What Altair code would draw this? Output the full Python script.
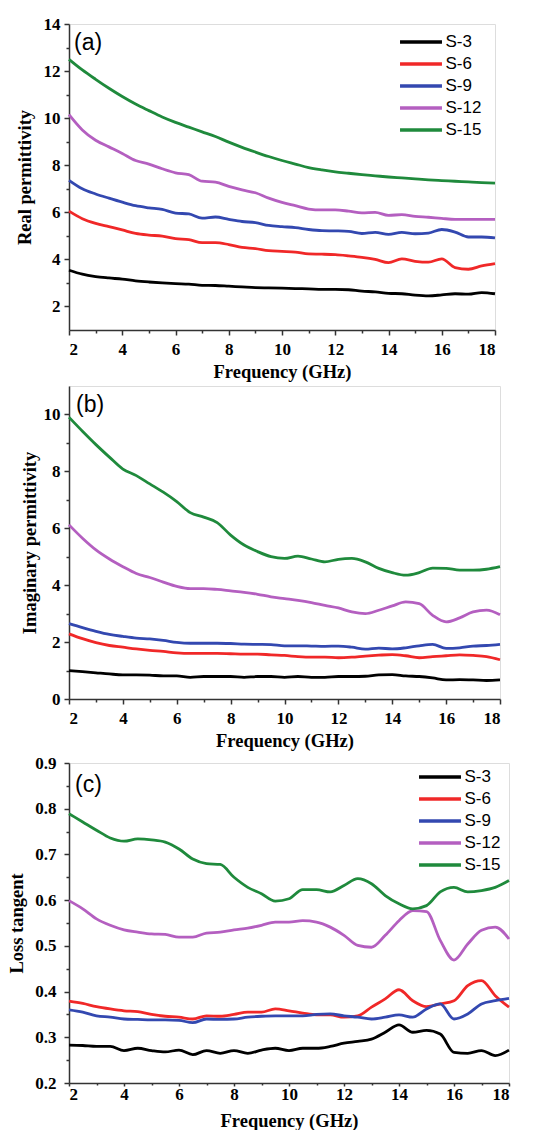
import altair as alt
import pandas as pd

FREQ = [2.0, 2.5, 3.0, 3.5, 4.0, 4.5, 5.0, 5.5, 6.0, 6.5, 7.0, 7.5, 8.0, 8.5, 9.0, 9.5,
        10.0, 10.5, 11.0, 11.5, 12.0, 12.5, 13.0, 13.5, 14.0, 14.5, 15.0, 15.5, 16.0,
        16.5, 17.0, 17.5, 18.0]
SERIES = ["S-3", "S-6", "S-9", "S-12", "S-15"]
COLORS = ["#000000", "#f02828", "#3348b0", "#b45fc0", "#1f8a3c"]

# (a) Real permittivity
A_S3 = [3.54, 3.37, 3.27, 3.21, 3.16, 3.09, 3.04, 3.0, 2.97, 2.95, 2.9, 2.89, 2.86, 2.83, 2.8, 2.79,
        2.78, 2.76, 2.75, 2.73, 2.73, 2.71, 2.65, 2.62, 2.56, 2.54, 2.48, 2.45, 2.49, 2.54, 2.52, 2.59, 2.54]
A_S6 = [6.05, 5.73, 5.53, 5.39, 5.25, 5.1, 5.03, 4.99, 4.88, 4.84, 4.71, 4.71, 4.63, 4.51, 4.46, 4.37,
        4.34, 4.31, 4.23, 4.22, 4.2, 4.15, 4.09, 4.0, 3.86, 4.02, 3.92, 3.88, 4.02, 3.65, 3.58, 3.72, 3.82]
A_S9 = [7.36, 7.0, 6.78, 6.6, 6.43, 6.28, 6.19, 6.12, 5.97, 5.93, 5.75, 5.8, 5.7, 5.61, 5.56, 5.44,
        5.39, 5.35, 5.27, 5.22, 5.21, 5.19, 5.1, 5.15, 5.06, 5.15, 5.09, 5.12, 5.27, 5.16, 4.95, 4.95, 4.91]
A_S12 = [10.15, 9.5, 9.06, 8.78, 8.5, 8.2, 8.05, 7.85, 7.68, 7.6, 7.32, 7.28, 7.1, 6.95, 6.83, 6.6,
         6.42, 6.28, 6.14, 6.1, 6.1, 6.05, 5.98, 6.0, 5.87, 5.9, 5.83, 5.79, 5.74, 5.7, 5.7, 5.7, 5.7]
A_S15 = [12.5, 12.05, 11.65, 11.27, 10.92, 10.6, 10.32, 10.05, 9.82, 9.62, 9.42, 9.22, 8.98, 8.76, 8.56,
         8.37, 8.2, 8.05, 7.9, 7.8, 7.72, 7.66, 7.6, 7.55, 7.5, 7.46, 7.42, 7.38, 7.35, 7.32, 7.29, 7.26, 7.24]

# (b) Imaginary permittivity
B_S3 = [1.0, 0.96, 0.92, 0.88, 0.85, 0.85, 0.84, 0.81, 0.81, 0.76, 0.79, 0.79, 0.79, 0.76, 0.79, 0.79,
        0.76, 0.79, 0.76, 0.76, 0.79, 0.79, 0.8, 0.85, 0.86, 0.81, 0.79, 0.74, 0.67, 0.68, 0.67, 0.65, 0.67]
B_S6 = [2.29, 2.12, 1.98, 1.88, 1.82, 1.76, 1.71, 1.67, 1.62, 1.6, 1.6, 1.6, 1.59, 1.58, 1.58, 1.55,
        1.53, 1.49, 1.47, 1.47, 1.45, 1.47, 1.51, 1.54, 1.56, 1.52, 1.45, 1.49, 1.52, 1.55, 1.53, 1.49, 1.38]
B_S9 = [2.65, 2.51, 2.38, 2.27, 2.2, 2.14, 2.11, 2.06, 1.99, 1.96, 1.96, 1.96, 1.95, 1.93, 1.92, 1.91,
        1.87, 1.87, 1.86, 1.85, 1.86, 1.82, 1.75, 1.79, 1.76, 1.8, 1.87, 1.92, 1.78, 1.8, 1.86, 1.88, 1.92]
B_S12 = [6.12, 5.65, 5.24, 4.92, 4.65, 4.41, 4.27, 4.11, 3.96, 3.88, 3.88, 3.85, 3.8, 3.75, 3.68, 3.59,
         3.53, 3.47, 3.39, 3.29, 3.2, 3.06, 3.0, 3.12, 3.27, 3.41, 3.35, 2.94, 2.71, 2.85, 3.06, 3.12, 2.96]
B_S15 = [9.9, 9.41, 8.94, 8.5, 8.08, 7.85, 7.56, 7.27, 6.94, 6.55, 6.39, 6.2, 5.76, 5.41, 5.18, 5.0,
         4.94, 5.02, 4.92, 4.82, 4.91, 4.94, 4.82, 4.59, 4.44, 4.35, 4.44, 4.6, 4.59, 4.53, 4.53, 4.56, 4.65]

# (c) Loss tangent
C_S3 = [0.283, 0.282, 0.28, 0.28, 0.271, 0.276, 0.271, 0.268, 0.272, 0.262, 0.271, 0.265, 0.271, 0.265,
        0.272, 0.276, 0.271, 0.276, 0.276, 0.28, 0.287, 0.291, 0.296, 0.311, 0.327, 0.311, 0.315, 0.307,
        0.267, 0.265, 0.271, 0.26, 0.272]
C_S6 = [0.379, 0.374, 0.367, 0.362, 0.358, 0.356, 0.35, 0.346, 0.344, 0.34, 0.347, 0.346, 0.35, 0.355,
        0.355, 0.362, 0.358, 0.353, 0.349, 0.349, 0.344, 0.347, 0.366, 0.384, 0.404, 0.38, 0.367, 0.373,
        0.38, 0.413, 0.424, 0.391, 0.366]
C_S9 = [0.36, 0.355, 0.347, 0.344, 0.34, 0.339, 0.338, 0.338, 0.337, 0.332, 0.34, 0.339, 0.34, 0.344,
        0.346, 0.347, 0.347, 0.347, 0.35, 0.351, 0.347, 0.344, 0.34, 0.344, 0.349, 0.344, 0.362, 0.373,
        0.34, 0.351, 0.373, 0.38, 0.385]
C_S12 = [0.599, 0.581, 0.559, 0.545, 0.535, 0.53, 0.526, 0.525, 0.519, 0.519, 0.528, 0.53, 0.535, 0.539,
         0.545, 0.552, 0.552, 0.555, 0.552, 0.541, 0.523, 0.501, 0.497, 0.523, 0.555, 0.577, 0.575, 0.512,
         0.469, 0.504, 0.534, 0.541, 0.515]
C_S15 = [0.789, 0.771, 0.753, 0.736, 0.729, 0.734, 0.732, 0.727, 0.712, 0.69, 0.68, 0.678, 0.65, 0.628,
         0.614, 0.598, 0.603, 0.623, 0.623, 0.618, 0.632, 0.647, 0.636, 0.61, 0.592, 0.581, 0.588, 0.618,
         0.628, 0.618, 0.621, 0.628, 0.643]

X_TICKS = list(range(2, 19))
A_TICKS = list(range(2, 15))
B_TICKS = list(range(0, 11))
C_TICKS = [0.2, 0.25, 0.3, 0.35, 0.4, 0.45, 0.5, 0.55, 0.6, 0.65, 0.7, 0.75, 0.8, 0.85, 0.9]

SERIF = "Liberation Serif"
SANS = "Liberation Sans"
AXIS_COLOR = "#333333"


def long_frame(cols):
    rows = []
    for name, vals in zip(SERIES, cols):
        for f, v in zip(FREQ, vals):
            rows.append({"freq": f, "val": v, "series": name})
    return pd.DataFrame(rows)


def axis_common(**kw):
    base = dict(
        grid=False, domainColor=AXIS_COLOR, domainWidth=1.5, tickColor=AXIS_COLOR, tickWidth=1.5,
        labelFont=SERIF, labelFontWeight="bold", labelFontSize=17, labelColor="black",
        titleFont=SERIF, titleFontWeight="bold", titleFontSize=18.5, titleColor="black",
        labelOverlap=False,
    )
    base.update(kw)
    return alt.Axis(**base)


def panel(tag, cols, ydomain, yticks, ymajor_test, yfmt, ytitle, w, h, lx, ly, tx, ty, ylp, ytp,
          xlp, xtp, xtick):
    df = long_frame(cols)
    x_axis = axis_common(
        values=X_TICKS, title="Frequency (GHz)", labelPadding=xlp, titlePadding=xtp,
        labelExpr="datum.value % 2 == 0 ? datum.label : ''",
        tickSize={"condition": {"test": "datum.value % 2 == 0", "value": xtick[0]}, "value": xtick[1]},
    )
    y_axis = axis_common(
        values=yticks, title=ytitle, format=yfmt, labelPadding=ylp, titlePadding=ytp,
        labelExpr=f"{ymajor_test} ? datum.label : ''",
        tickSize={"condition": {"test": ymajor_test, "value": 5}, "value": 3},
    )
    legend = alt.Legend(
        orient="none", legendX=lx, legendY=ly, title=None, padding=0,
        symbolType="M-4,0H4", symbolSize=110, symbolStrokeWidth=3.5, symbolOffset=0,
        labelOffset=16, rowPadding=4, labelFont=SANS, labelFontSize=17, labelColor="black",
    )
    lines = alt.Chart(df).mark_line(strokeWidth=2.8, interpolate="monotone").encode(
        x=alt.X("freq:Q", scale=alt.Scale(domain=[2, 18], nice=False, zero=False), axis=x_axis),
        y=alt.Y("val:Q", scale=alt.Scale(domain=ydomain, nice=False, zero=False), axis=y_axis),
        color=alt.Color("series:N", scale=alt.Scale(domain=SERIES, range=COLORS), legend=legend),
        order=alt.Order("freq:Q"),
    )
    label = alt.Chart(pd.DataFrame({"t": [tag]})).mark_text(
        align="left", baseline="middle", font=SANS, fontSize=23, color="black"
    ).encode(text="t:N", x=alt.value(tx), y=alt.value(ty))
    return alt.layer(lines, label).properties(width=w, height=h)


pa = panel("(a)", [A_S3, A_S6, A_S9, A_S12, A_S15], [1, 14], A_TICKS, "datum.value % 2 == 0", "d",
           "Real permittivity", 426, 306, 343.5, 9.5, 5, 19, 4, 9, 6.5, 4.5, (5, 3))
pb = panel("(b)", [B_S3, B_S6, B_S9, B_S12, B_S15], [0, 11], B_TICKS, "datum.value % 2 == 0", "d",
           "Imaginary permittivity", 431, 313, 353.5, 12.5, 7, 19, 4, 4, 6.5, 4.5, (5, 3))
pc = panel("(c)", [C_S3, C_S6, C_S9, C_S12, C_S15], [0.2, 0.9], C_TICKS,
           "round(datum.value * 100) % 10 == 0", ".1f", "Loss tangent", 440, 320, 362.5, 5.5, 6, 22, 8, 8,
           0, 9, (3, 2))

top = alt.vconcat(pa, pb, spacing=4)
chart = alt.vconcat(top, pc, spacing=3).resolve_scale(color="independent").properties(
    padding={"left": 7, "top": 14, "right": 5, "bottom": 0}
).configure_view(stroke=AXIS_COLOR, strokeWidth=1.5).configure(background="white")

chart.save("out.html", embed_options={"renderer": "svg", "actions": False})
